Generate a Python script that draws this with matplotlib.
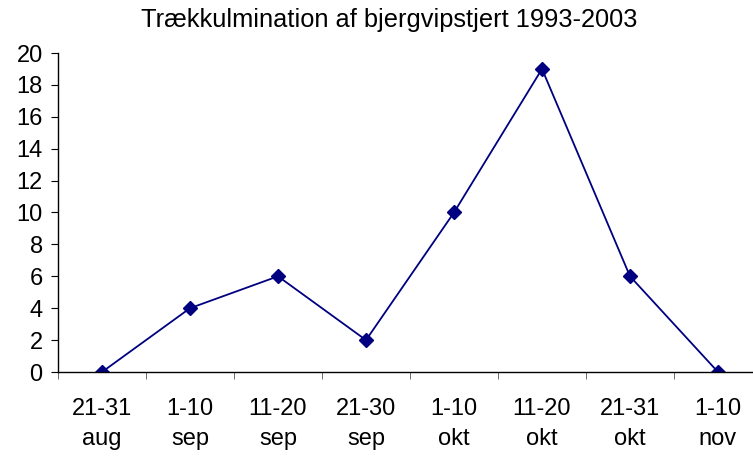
import numpy as np
import matplotlib.pyplot as plt

categories = ["21-31\naug", "1-10\nsep", "11-20\nsep", "21-30\nsep",
              "1-10\nokt", "11-20\nokt", "21-31\nokt", "1-10\nnov"]
counts = [0, 4, 6, 2, 10, 19, 6, 0]
title = "Trækkulmination af bjergvipstjert 1993-2003"

plt.rcParams['font.family'] = ['Liberation Sans', 'DejaVu Sans']

fig = plt.figure(figsize=(7.53, 4.61), dpi=100)
ax = fig.add_axes([58 / 753, 89 / 461, 704 / 753, 319 / 461])

x = np.arange(len(counts))
ax.plot(x, counts, color='#000080', marker='D', markersize=7.5, linewidth=1.3)

ax.set_xlim(-0.5, len(counts) - 0.5)
ax.set_ylim(0, 20)
ax.set_yticks(range(0, 21, 2))
ax.set_xticks(x)
ax.set_xticklabels(categories, fontsize=17, linespacing=1.45)
ax.set_xticks(np.arange(-0.5, len(counts), 1), minor=True)
ax.tick_params(axis='x', which='major', length=0, pad=19)
ax.tick_params(axis='x', which='minor', length=5, direction='out', color='#555555')
ax.tick_params(axis='y', labelsize=17, length=5, direction='out', pad=6)

for s in ['top', 'right']:
    ax.spines[s].set_visible(False)
ax.spines['left'].set_linewidth(1)
ax.spines['bottom'].set_linewidth(1)

fig.text(389 / 753, 1 - 20 / 461, title, ha='center', va='center', fontsize=18.3)

plt.savefig("out.png", dpi=100)
